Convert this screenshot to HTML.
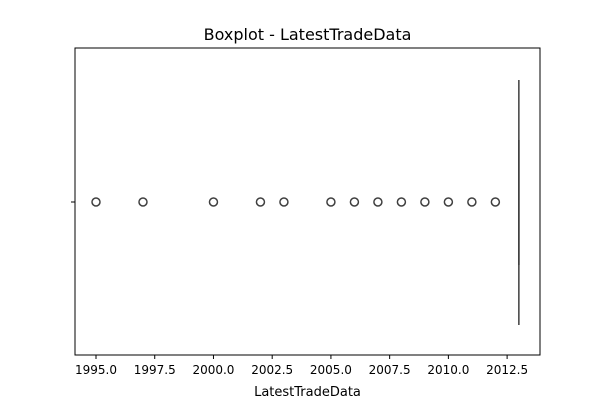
<!DOCTYPE html>
<html><head><meta charset="utf-8"><style>
body{margin:0;background:#fff;width:600px;height:400px;overflow:hidden}
svg text{font-family:"DejaVu Sans","Liberation Sans",sans-serif;fill:#000}
</style></head><body>
<svg id="chart" width="600" height="400">
<text x="307.5" y="40" font-size="16" text-anchor="middle">Boxplot - LatestTradeData</text>
<g id="plot"></g>
<text x="307.5" y="396" font-size="13" text-anchor="middle">LatestTradeData</text>
</svg>
<script>
const ticks=[1995,1997.5,2000,2002.5,2005,2007.5,2010,2012.5];
const tickLabels=["1995.0","1997.5","2000.0","2002.5","2005.0","2007.5","2010.0","2012.5"];
const outliers=[1995,1997,2000,2002,2003,2005,2006,2007,2008,2009,2010,2011,2012];
const boxStats=[2013,2013,2013,2013,2013];
const L=75,R=540,T=48,B=355,xmin=1994.106,xmax=2013.9;
const x=v=>L+(v-xmin)/(xmax-xmin)*(R-L);
const g=document.getElementById('plot');
const ns='http://www.w3.org/2000/svg';
function mk(t,a){const e=document.createElementNS(ns,t);for(const k in a)e.setAttribute(k,a[k]);g.appendChild(e);return e;}
const cy=202;
let e=mk('line',{x1:x(boxStats[0]),x2:x(boxStats[0]),y1:80,y2:325,stroke:'#3f3f3f','stroke-width':1.5});


e=mk('rect',{x:x(boxStats[1])-0.8,y:140,width:Math.max(1.6,x(boxStats[3])-x(boxStats[1])),height:125,fill:'#3f3f3f'});


outliers.forEach(v=>{const c=mk('circle',{cx:x(v),cy:cy,r:4,fill:'none',stroke:'#3f3f3f','stroke-width':1.5});

});
e=mk('rect',{x:L,y:T,width:R-L,height:B-T,fill:'none',stroke:'#000','stroke-width':1});


mk('line',{x1:L-4,x2:L,y1:cy,y2:cy,stroke:'#000'});
ticks.forEach((v,i)=>{mk('line',{x1:x(v),x2:x(v),y1:B,y2:B+4,stroke:'#000'});
const t=mk('text',{x:x(v),y:B+19,'font-size':12,'text-anchor':'middle'});t.textContent=tickLabels[i];

});
</script>
</body></html>
